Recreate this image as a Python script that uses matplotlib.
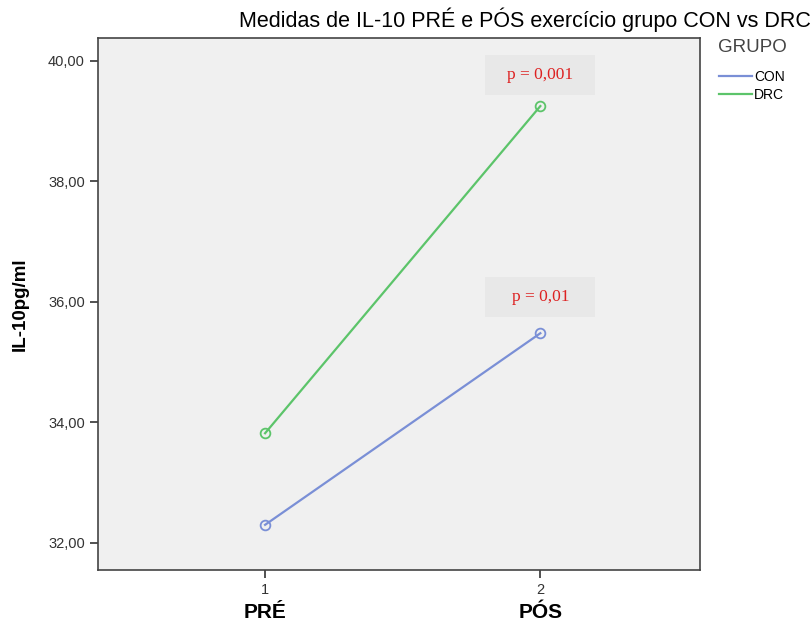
import matplotlib.pyplot as plt
from matplotlib.lines import Line2D
from matplotlib.patches import Rectangle

# ─── Data ─────────────────────────────────────────────────────────────────────
moments = [1, 2]
moment_labels = ["PRÉ", "PÓS"]
con_values = [32.30, 35.48]
drc_values = [33.82, 39.25]
p_labels = ["p = 0,001", "p = 0,01"]
p_positions = [39.77, 36.08]

CON_COLOR = "#7a8fd6"
DRC_COLOR = "#5cc46a"

plt.rcParams["font.family"] = ["Liberation Sans", "DejaVu Sans"]

fig = plt.figure(figsize=(8.12, 6.3), dpi=100)
ax = fig.add_axes([98 / 812, 60 / 630, 602 / 812, 532 / 630])
ax.set_facecolor("#f0f0f0")

ax.plot(moments, con_values, color=CON_COLOR, lw=1.6, marker="o", ms=7,
        mfc="none", mec=CON_COLOR, mew=1.3, zorder=3)
ax.plot(moments, drc_values, color=DRC_COLOR, lw=1.6, marker="o", ms=7,
        mfc="none", mec=DRC_COLOR, mew=1.3, zorder=3)

ax.set_xlim(0.393, 2.58)
ax.set_ylim(31.55, 40.38)
ax.set_xticks(moments)
ax.set_xticklabels(["1", "2"], fontsize=10.5, color="#333333")
ax.set_yticks([32, 34, 36, 38, 40])
ax.set_yticklabels(["32,00", "34,00", "36,00", "38,00", "40,00"],
                   fontsize=10.5, color="#333333")
ax.tick_params(length=6, width=1.2, color="#333333")
for sp in ax.spines.values():
    sp.set_color("#444444")
    sp.set_linewidth(1.2)

for x, lab in zip(moments, moment_labels):
    ax.text(x, -0.079, lab, transform=ax.get_xaxis_transform(),
            ha="center", va="center", fontsize=15, fontweight="bold")

ax.set_ylabel("IL-10pg/ml", fontsize=13.5, fontweight="bold", labelpad=14)

# p-value annotations with light grey boxes
for lab, yp in zip(p_labels, p_positions):
    ax.add_patch(Rectangle((2 - 0.2, yp - 0.33), 0.4, 0.66,
                           fc="#e8e8e8", ec="none", zorder=1))
    ax.text(2, yp, lab, ha="center", va="center", fontsize=12.5,
            family=["Liberation Serif", "DejaVu Serif"], color="#dd2222",
            zorder=2)

fig.text(525 / 812, 1 - 20 / 630,
         "Medidas de IL-10 PRÉ e PÓS exercício grupo CON vs DRC",
         ha="center", va="center", fontsize=15.5, color="#000000")

# legend: title drawn separately, entries below
fig.text(718 / 812, 1 - 48 / 630, "GRUPO", ha="left", va="center",
         fontsize=13.5, color="#444444")
handles = [Line2D([], [], color=CON_COLOR, lw=1.6),
           Line2D([], [], color=DRC_COLOR, lw=1.6)]
fig.legend(handles, ["CON", "DRC"], loc="upper left",
           bbox_to_anchor=(716 / 812, 1 - 67 / 630), frameon=False,
           fontsize=10, handlelength=2.4, handletextpad=0.15,
           labelspacing=0.3, borderaxespad=0, borderpad=0.2)

fig.savefig("out.png", dpi=100)
